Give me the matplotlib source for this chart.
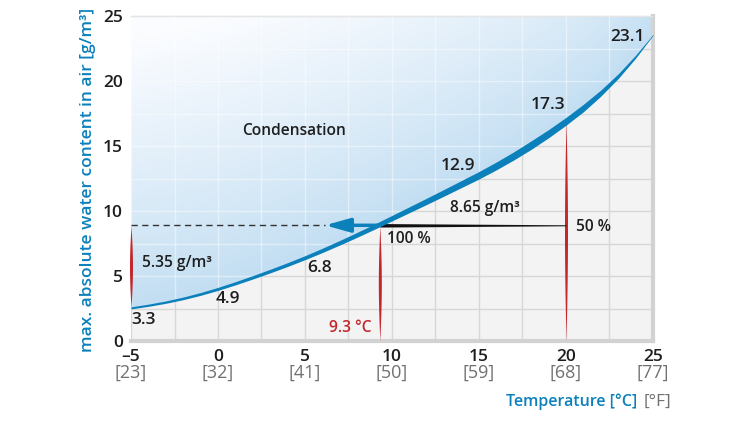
import numpy as np
import matplotlib.pyplot as plt
from matplotlib.patches import Polygon, FancyArrowPatch

plt.rcParams['font.family'] = ['Open Sans', 'DejaVu Sans']

# saturation curve (deg C -> g/m3)
temp_c = [-5, -4, -3, -2, -1, 0, 1, 2, 3, 4, 5, 6, 7, 8, 9, 10, 11, 12, 13, 14, 15,
          16, 17, 18, 19, 20, 21, 22, 23, 24, 25]
water = [2.55, 2.75, 2.99, 3.28, 3.62, 4.01, 4.44, 4.90, 5.38, 5.88, 6.41, 6.97, 7.56,
         8.17, 8.80, 9.45, 10.10, 10.75, 11.41, 12.08, 12.75, 13.47, 14.24, 15.07, 15.95,
         16.90, 17.92, 19.07, 20.37, 21.87, 23.55]

xticks_c = [-5, 0, 5, 10, 15, 20, 25]
xticks_c_lbl = ['\u20135', '0', '5', '10', '15', '20', '25']
xticks_f_lbl = ['[23]', '[32]', '[41]', '[50]', '[59]', '[68]', '[77]']
yticks = [0, 5, 10, 15, 20, 25]

dew_t = 9.3          # dew point
room_t = 20          # room temperature
level = 8.9          # water content line as drawn (8.65 g/m3)
arrow_tip = 6.15

# value labels: (x, y, text)
point_lbls = [(-4.3, 1.6, '3.3'), (0.57, 3.2, '4.9'), (5.86, 5.6, '6.8'),
              (13.8, 13.46, '12.9'), (18.97, 18.15, '17.3'), (23.56, 23.4, '23.1')]

blue = '#0b80bb'
red = '#c1272d'
dark = '#1e1e1e'
grey = '#707070'

fig = plt.figure(figsize=(7.5, 4.22), dpi=100)
ax = fig.add_axes([131/750, 81/422, 522/750, 325/422])
ax.set_xlim(-5, 25)
ax.set_ylim(0, 25)
ax.set_facecolor('#f3f3f3')

grid_x = np.arange(-5, 25.1, 2.5)
grid_y = np.arange(0, 25.1, 2.5)
ax.vlines(grid_x, 0, 25, color='#d7d7d7', lw=1, zorder=1)
ax.hlines(grid_y, -5, 25, color='#d7d7d7', lw=1, zorder=1)

tx = np.array(temp_c, float)
wy = np.array(water, float)

# blue gradient above the curve
poly = Polygon(np.vstack([np.column_stack([tx, wy]), [[25, 25], [-5, 25]]]),
               closed=True, facecolor='none', edgecolor='none')
ax.add_patch(poly)
gx = np.linspace(-5, 25, 500)
gy = np.linspace(0, 25, 400)
GX, GY = np.meshgrid(gx, gy)
d = GY - np.interp(GX, tx, wy)
t = np.clip(d / 21.0, 0, 1) ** 0.9
c0 = np.array([0.76, 0.87, 0.95])
c1 = np.array([0.985, 0.99, 1.0])
img = c0[None, None, :] * (1 - t[..., None]) + c1[None, None, :] * t[..., None]
im = ax.imshow(img, extent=(-5, 25, 0, 25), origin='lower', aspect='auto', zorder=2)
im.set_clip_path(poly)
vl = ax.vlines(grid_x, 0, 25, color='white', lw=1, alpha=0.45, zorder=3)
hl = ax.hlines(grid_y, -5, 25, color='white', lw=1, alpha=0.45, zorder=3)
vl.set_clip_path(poly)
hl.set_clip_path(poly)

# tapered curve
px_y = 325 / 25.0
thick = np.interp(tx, [-5, 0, 5, 10, 15, 18, 21, 23.5, 25],
                  [2, 3, 4, 5.5, 7.5, 8.5, 7.5, 4, 1]) / px_y
ax.fill_between(tx, wy - thick / 2, wy + thick / 2, color=blue, lw=0, zorder=6)


def spindle(x, y0, y1, w_px):
    yy = np.linspace(y0, y1, 100)
    hw = np.sin(np.pi * (yy - y0) / (y1 - y0)) * w_px / 2 / (522 / 30.0)
    ax.fill_betweenx(yy, x - hw, x + hw, color=red, lw=0, zorder=5, clip_on=False)


spindle(-5, wy[0], level, 3)
spindle(dew_t, 0, level, 3)
spindle(room_t, 0, np.interp(room_t, tx, wy), 3)

# black line from 20 to dew point, thicker to the left
bx = np.linspace(dew_t, room_t, 50)
bh = np.interp(bx, [dew_t, room_t], [3.5, 1.0]) / px_y / 2
ax.fill_between(bx, level - bh, level + bh, color='#111111', lw=0, zorder=5)

# blue arrow and dashed line
arr = FancyArrowPatch((dew_t, level), (arrow_tip, level),
                      arrowstyle='-|>,head_length=15,head_width=4.2',
                      mutation_scale=1, lw=2.5, color=blue,
                      shrinkA=0, shrinkB=0, zorder=7)
ax.add_patch(arr)
ax.plot([-5, arrow_tip], [level, level], color='#333333', lw=1,
        dashes=(4.5, 3.2), zorder=4)

fs = 11.2
fsn = 12.5
for x, y, s in point_lbls:
    ax.text(x, y, s, ha='center', va='center', fontsize=fsn, color=dark,
            fontweight='semibold', zorder=8)
ax.text(4.4, 16.15, 'Condensation', ha='center', va='center', fontsize=fs,
        color=dark, fontweight='semibold', zorder=8)
ax.text(-4.37, 6.0, '5.35 g/m\u00b3', ha='left', va='center', fontsize=fs,
        color=dark, fontweight='semibold', zorder=8)
ax.text(15.35, 10.2, '8.65 g/m\u00b3', ha='center', va='center', fontsize=fs,
        color=dark, fontweight='semibold', zorder=8)
ax.text(20.6, 8.77, '50 %', ha='left', va='center', fontsize=fs,
        color=dark, fontweight='semibold', zorder=8)
ax.text(9.7, 7.85, '100 %', ha='left', va='center', fontsize=fs,
        color=dark, fontweight='semibold', zorder=8)
ax.text(8.8, 1.0, '9.3 \u00b0C', ha='right', va='center', fontsize=fs,
        color=red, fontweight='semibold', zorder=8)

# axes frame
ax.spines['left'].set_visible(False)
ax.spines['top'].set_color('#d2d2d2')
ax.spines['top'].set_linewidth(1)
for s in ('right', 'bottom'):
    ax.spines[s].set_color('#d2d2d2')
    ax.spines[s].set_linewidth(3)

ax.set_xticks(xticks_c)
ax.set_xticklabels(xticks_c_lbl, fontsize=fsn, color=dark, fontweight='semibold')
ax.set_yticks(yticks)
ax.set_yticklabels([str(v) for v in yticks], fontsize=fsn, color=dark,
                   fontweight='semibold')
ax.tick_params(length=0, pad=6)
ax.tick_params(axis='x', pad=6)
for x, s in zip(xticks_c, xticks_f_lbl):
    ax.text(x, -0.098, s, transform=ax.get_xaxis_transform(), ha='center',
            va='center', fontsize=13, color=grey)

fig.text(88/750, (422 - 180)/422, 'max. absolute water content in air [g/m\u00b3]',
         rotation=90, ha='center', va='center', fontsize=12.5, color=blue,
         fontweight='semibold')
fig.text(637/750, 20/422, 'Temperature [\u00b0C]', ha='right', va='center',
         fontsize=11.5, color=blue, fontweight='semibold')
fig.text(671/750, 20/422, '[\u00b0F]', ha='right', va='center',
         fontsize=12.5, color=grey)

fig.savefig('out.png', dpi=100)
